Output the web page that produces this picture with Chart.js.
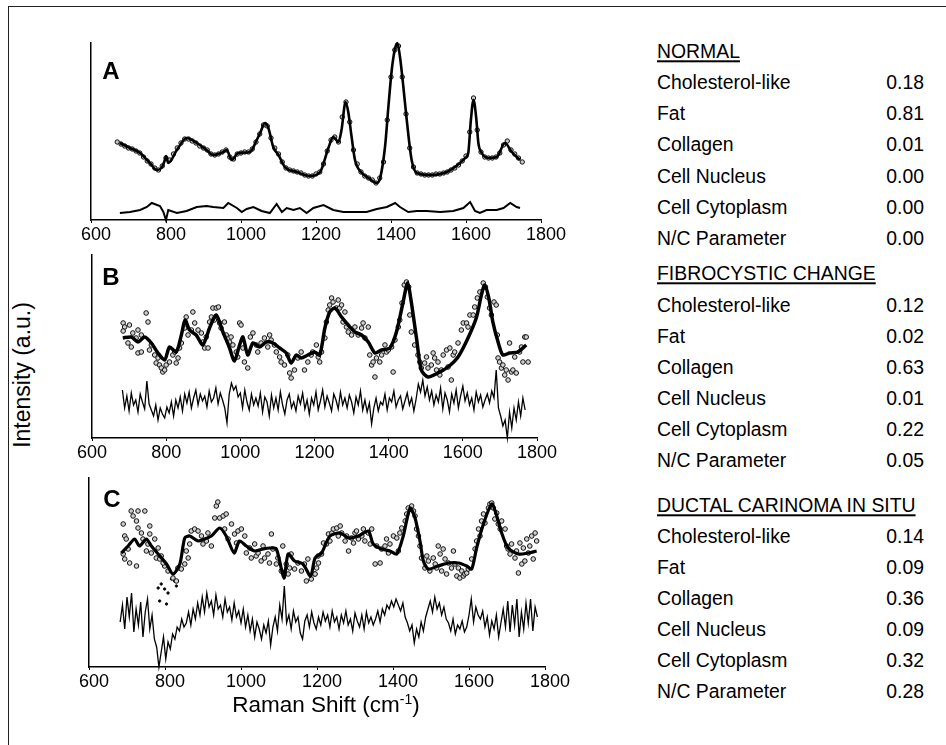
<!DOCTYPE html>
<html><head><meta charset="utf-8">
<script src="https://cdn.jsdelivr.net/npm/chart.js@4.4.0/dist/chart.umd.min.js"></script>
<style>
html,body{margin:0;padding:0;background:#fff;}
body{width:946px;height:745px;position:relative;overflow:hidden;font-family:'Liberation Sans',Arial,sans-serif;color:#000;}
.frameTop{position:absolute;left:8px;top:6px;width:940px;height:0;border-top:1px solid #222;}
.frameLeft{position:absolute;left:8px;top:6px;width:0;height:745px;border-left:1px solid #222;}
canvas{position:absolute;}
.t{position:absolute;white-space:nowrap;line-height:1;transform:translateY(-50%);font-size:19.4px;}
.v{text-align:right;}
.u{text-decoration:underline;text-decoration-thickness:1.5px;text-underline-offset:2px;}
.pl{position:absolute;font-weight:bold;font-size:24px;line-height:1;transform:translate(-50%,-50%);}
.ytitle{position:absolute;left:22px;top:375px;font-size:23px;white-space:nowrap;line-height:1;transform:translate(-50%,-50%) rotate(-90deg);}
.xtitle{position:absolute;left:326px;top:705px;font-size:22.5px;white-space:nowrap;line-height:1;transform:translate(-50%,-50%);}
.xtitle sup{font-size:14px;vertical-align:8px;line-height:0;}
</style></head>
<body>
<div class="frameTop"></div><div class="frameLeft"></div>
<canvas id="cA"></canvas><canvas id="cB"></canvas><canvas id="cC"></canvas>
<div class="pl" style="left:111px;top:71px">A</div>
<div class="pl" style="left:111px;top:277px">B</div>
<div class="pl" style="left:112px;top:499px">C</div>
<div class="ytitle">Intensity (a.u.)</div>
<div class="xtitle">Raman Shift (cm<sup>-1</sup>)</div>
<div id="tables"></div>
<script>
// ---------- x axis ticks ----------
const xTickValues = [600, 800, 1000, 1200, 1400, 1600, 1800];

// ---------- Panel A (normal) ----------
const aFitX = [677,704,731,757,775,788,797,800,806,829,855,882,908,926,953,962,975,993,1024,1042,1051,1064,1073,1086,1100,1117,1149,1184,1211,1233,1246,1260,1268,1279,1286,1295,1304,1320,1340,1362,1371,1384,1393,1402,1411,1417,1424,1433,1442,1455,1469,1504,1549,1584,1598,1606,1613,1620,1627,1633,1642,1660,1682,1704,1722,1744];
const aFitY = [77,72,67,57,50,52,60,64,57,70,82,77,70,65,68,70,60,67,68,80,87,97,92,73,65,53,48,44,48,72,83,78,90,118,108,83,60,48,42,37,42,73,113,150,172,177,163,133,100,60,47,45,48,57,62,67,100,120,103,77,67,62,63,77,68,60];
const aObsStart = 670, aObsStep = 10;
const aObsY = [78,76,74,72,71,69,67,63,59,56,
  52,50,54,62,60,66,72,77,81,81,
  79,77,74,72,70,66,65,66,68,70,
  63,61,66,67,68,68,71,78,86,95,
  94,82,72,66,58,52,50,49,48,47,
  45,44,44,46,48,56,69,80,83,78,
  103,118,98,70,56,48,44,42,40,37,
  42,58,100,143,170,174,143,106,72,53,
  47,46,45,45,45,46,46,47,48,50,
  52,55,59,64,88,122,90,68,63,62,
  62,63,67,75,79,70,66,62,58];
const aResX = [677,704,731,749,762,784,793,800,806,829,855,882,908,926,953,966,989,1002,1015,1033,1055,1077,1095,1109,1122,1140,1157,1175,1193,1220,1246,1273,1309,1335,1362,1389,1411,1424,1446,1469,1495,1531,1566,1593,1611,1624,1637,1655,1682,1700,1718,1735,1744];
const aResY = [7,8,10,13,17,14,8,0,10,7,9,13,14,13,12,17,12,8,11,13,9,7,16,8,12,10,12,7,12,15,10,8,8,8,11,13,17,13,8,9,9,8,9,12,18,9,7,10,10,12,17,13,12];

// ---------- Panel B (fibrocystic change) ----------
const bFitX = [683,706,724,742,760,778,796,809,827,841,851,863,881,899,917,935,953,971,984,998,1007,1020,1034,1052,1070,1088,1106,1124,1137,1151,1164,1182,1200,1214,1228,1241,1255,1273,1291,1309,1327,1345,1363,1381,1403,1421,1439,1451,1461,1475,1488,1506,1533,1560,1587,1614,1637,1650,1659,1670,1681,1695,1708,1726,1749,1771];
const bFitY = [100,101,96,101,95,85,78,91,86,103,118,108,103,93,110,123,106,90,77,93,101,83,95,91,96,95,90,85,75,83,80,83,86,83,110,126,130,121,113,106,103,96,85,88,90,106,136,155,136,100,68,61,65,71,81,100,121,143,153,140,116,96,83,85,86,93];
const bObsX = [684,688,701,684,710,724,733,746,751,697,706,724,733,719,755,760,769,778,773,782,787,791,796,800,809,818,827,832,823,836,841,850,854,859,868,872,877,886,895,899,904,913,908,917,922,926,935,941,930,944,948,957,962,971,975,980,989,993,998,1002,1007,1011,1020,1027,1034,1043,1047,1056,1065,1074,1079,1083,1092,1097,1106,1110,1119,1128,1133,1137,1146,1155,1164,1173,1182,1191,1195,
  1205,1210,1214,1219,1228,1232,1237,1241,1246,1250,1259,1264,1268,1273,1282,1277,1286,1291,1300,1309,1318,1327,1331,1336,1345,1349,1354,1358,1363,1367,1376,1381,1390,1394,1399,1408,1412,1417,1426,1430,1436,1442,1448,1454,1457,1461,1470,1479,1484,1488,1497,1502,1506,1515,1520,1524,1529,1533,1538,1542,1547,1556,1560,1565,1569,1574,1578,1587,1596,1601,1610,1614,1619,1628,1632,1639,1646,1655,1661,1666,1672,1677,1684,1690,1693,1695,1699,1704,1708,1713,1717,1722,1726,1731,1735,1740,1744,1753,1758,1762,1767,1771,1776];
const bObsY = [115,111,113,107,105,108,103,125,116,95,91,85,86,100,88,93,83,80,75,73,70,66,68,73,76,83,75,80,86,90,95,110,121,103,108,126,115,108,105,96,90,90,101,116,121,130,130,131,118,115,110,116,103,96,101,93,86,81,115,113,90,76,70,101,105,93,86,95,100,91,103,98,93,86,81,76,73,83,65,60,68,80,86,68,76,83,86,
  93,81,76,86,100,116,128,133,140,136,130,138,130,133,126,116,111,106,103,111,103,110,115,100,111,83,73,76,61,80,76,83,93,86,88,91,66,98,111,118,135,153,156,151,123,106,93,83,76,70,75,81,70,73,85,80,68,76,63,68,83,88,71,90,58,83,86,95,108,115,115,111,123,123,131,140,146,155,151,141,130,123,136,133,103,80,76,70,73,63,68,58,95,66,68,81,65,86,91,76,101,101,76];
const bResStart = 682, bResStep = 6;
const bResY = [48,30,42,27,45,33,38,26,44,36,29,57,34,
  28,22,33,18,30,24,20,31,
  25,36,22,38,30,41,27,44,
  35,46,30,40,48,33,44,37,
  42,31,47,36,40,50,34,45,
  38,30,15,44,55,48,52,41,
  45,30,48,36,28,44,33,40,
  32,45,26,41,36,22,43,30,
  40,28,46,33,24,38,44,30,
  36,27,42,34,45,29,38,24,
  40,33,46,28,37,48,31,42,
  35,27,44,38,29,46,33,40,
  30,43,36,25,41,33,47,28,
  38,26,35,14,30,40,27,36,
  33,44,28,40,36,47,31,38,
  42,29,37,45,33,40,27,39,
  54,46,58,42,51,38,47,33,
  43,36,50,29,45,38,26,44,
  35,48,30,42,52,37,45,33,
  40,28,46,36,43,31,38,44,
  35,47,40,68,30,22,12,18,
  0,26,10,30,18,36,22,40,
  28];

// ---------- Panel C (ductal carcinoma in situ) ----------
const cFitX = [685,703,720,733,751,764,782,804,821,839,852,865,887,904,922,944,961,982,996,1014,1036,1058,1075,1093,1113,1124,1141,1163,1183,1195,1212,1234,1261,1283,1309,1335,1348,1370,1392,1410,1427,1445,1458,1471,1480,1493,1519,1546,1572,1594,1607,1620,1638,1660,1673,1686,1703,1730,1756,1778];
const cFitY = [114,121,128,121,128,121,113,103,93,103,129,131,126,128,131,139,131,114,126,121,116,118,119,118,89,113,106,103,91,109,114,131,134,129,131,136,123,118,116,113,131,159,149,126,106,98,101,104,104,101,98,119,143,163,151,134,119,113,114,116];
const cObsX = [690,694,698,703,690,694,707,711,716,729,725,729,738,742,747,751,760,760,755,764,773,777,782,786,790,799,725,795,808,821,830,834,843,852,861,856,865,869,878,887,896,900,909,913,922,931,935,939,944,953,957,961,966,975,983,988,992,1001,1010,1014,1023,1027,1036,1040,1045,1053,1058,1062,1071,1075,1080,1084,1093,1097,1106,1110,1119,1124,1128,1132,1141,1150,1159,1167,1172,1176,1185,1194,1203,
  1195,1199,1204,1212,1217,1225,1230,1234,1239,1243,1252,1256,1261,1265,1274,1278,1283,1291,1296,1300,1304,1309,1318,1322,1326,1335,1340,1344,1353,1357,1366,1370,1379,1383,1388,1392,1401,1410,1414,1418,1423,1432,1436,1440,1449,1454,1458,1462,1467,1471,1475,1484,1489,1493,1497,1506,1511,1515,1519,1524,1528,1532,1537,1541,1546,1554,1559,1563,1568,1572,1576,1581,1585,1589,1594,1598,1607,1616,1620,1625,1629,1633,1638,1642,1651,1655,1660,1664,1668,1673,1677,1682,1686,1695,1699,1703,1708,1712,1721,1725,1730,1734,1739,1743,1747,1752,1756,1760,1765,1769,1774,1778];
const cObsY = [143,131,128,118,113,108,104,156,151,156,146,139,134,128,156,116,141,133,123,114,128,109,119,108,111,101,101,104,96,89,86,99,98,103,109,116,123,136,138,136,131,123,126,134,121,149,161,165,149,151,138,153,128,143,133,124,136,138,131,114,119,109,123,111,114,106,121,109,113,104,133,118,103,109,96,121,103,93,99,113,98,104,96,103,86,108,88,93,111,
  93,99,104,113,124,123,133,126,134,138,139,131,141,134,126,131,116,129,124,134,136,128,131,138,126,134,123,138,103,121,104,118,121,128,114,123,131,129,116,134,139,146,153,159,161,156,151,138,131,121,109,99,111,106,96,109,103,99,121,113,96,118,108,93,104,99,116,103,91,99,89,96,91,93,94,98,108,118,126,138,131,146,153,144,159,163,164,159,148,154,143,138,146,138,121,118,113,123,109,116,94,124,103,119,106,128,114,121,131,108,134,126];
const cDotX = [782,790,799,808,786,804,817,825,830];
const cDotY = [79,83,78,74,66,63,88,86,81];
const cResStart = 682, cResStep = 6;
const cResY = [45,62,38,70,50,74,35,58,
  42,65,30,55,68,38,52,28,
  20,0,15,30,8,25,18,33,
  28,40,36,48,40,44,55,42,
  58,48,64,52,70,55,74,60,
  66,52,72,58,62,50,68,55,
  60,47,64,50,56,44,58,40,
  52,36,48,30,45,38,28,42,
  34,46,22,40,50,36,62,48,
  81,44,52,38,56,45,50,34,
  28,46,52,40,55,44,38,50,
  42,55,46,52,40,56,45,50,
  38,52,44,56,42,48,36,54,
  46,40,52,38,55,44,50,42,
  48,56,45,58,52,62,58,66,
  60,68,62,56,64,50,44,36,
  42,24,38,30,45,36,50,58,
  66,55,70,58,64,52,60,48,
  44,36,48,33,42,38,46,35,
  40,52,68,45,60,52,48,56,
  40,50,32,46,38,52,30,44,
  58,40,66,35,62,42,68,30,
  55,38,64,44,68,36,60,50];

// ---------- Tables ----------
const components = ['Cholesterol-like','Fat','Collagen','Cell Nucleus','Cell Cytoplasm','N/C Parameter'];
const groups = [
  {title:'NORMAL', values:['0.18','0.81','0.01','0.00','0.00','0.00'], titleY:52, rowsY:[83,114,145,177,208,239]},
  {title:'FIBROCYSTIC CHANGE', values:['0.12','0.02','0.63','0.01','0.22','0.05'], titleY:274, rowsY:[306,337,368,399,430,461]},
  {title:'DUCTAL CARINOMA IN SITU', values:['0.14','0.09','0.36','0.09','0.32','0.28'], titleY:506, rowsY:[537,568,599,630,661,692]}
];

// ---------- helpers ----------
function pts(xs, ys){ return ys.map((y,i)=>({x:xs[i], y:y})); }
function sampleAxis(start, step, n){ const a=[]; for(let i=0;i<n;i++) a.push(start+step*i); return a; }

const FONT = "'Liberation Sans', Arial, sans-serif";
const padL = 30, padR = 30, padT = 4, axisH = 30;

function fitLine(xs, ys, w, smooth){
  return {data:pts(xs,ys), showLine:true, borderColor:'#000', borderWidth:w, pointRadius:0,
    cubicInterpolationMode: smooth ? 'monotone' : 'default', tension: smooth ? 0 : 0.25, order:0, clip:false};
}
function obs(xs, ys, r, fill){
  return {data:pts(xs,ys), showLine:false, pointRadius:r, pointHoverRadius:r, pointBorderWidth:1,
    pointBorderColor:'#111', pointBackgroundColor:fill, order:1, clip:false};
}
function resid(xs, ys, w){
  return {data:pts(xs,ys), showLine:true, borderColor:'#000', borderWidth:w, pointRadius:0, tension:0, order:2, clip:false};
}

const panels = [
  {id:'cA', left:91, right:541, top:43, bottom:220, yMax:177, labelShift:5, datasets:[
    fitLine(aFitX, aFitY, 2.6, true),
    obs(sampleAxis(aObsStart, aObsStep, aObsY.length), aObsY, 2.2, '#c8c8c8'),
    resid(aResX, aResY, 2)
  ]},
  {id:'cB', left:92, right:537, top:255, bottom:438, yMax:183, labelShift:0, datasets:[
    fitLine(bFitX, bFitY, 3.5, false),
    obs(bObsX, bObsY, 2.3, '#d0d0d0'),
    resid(sampleAxis(bResStart, bResStep, bResY.length), bResY, 1.3)
  ]},
  {id:'cC', left:89, right:545, top:478, bottom:667, yMax:189, labelShift:5, datasets:[
    fitLine(cFitX, cFitY, 3.2, false),
    obs(cObsX, cObsY, 2.3, '#d0d0d0'),
    obs(cDotX, cDotY, 1.2, '#000'),
    resid(sampleAxis(cResStart, cResStep, cResY.length), cResY, 1.3)
  ]}
];

panels.forEach(p => {
  const cv = document.getElementById(p.id);
  const w = p.right - p.left + padL + padR;
  const h = p.bottom - p.top + padT + axisH;
  cv.width = w; cv.height = h;
  cv.style.left = (p.left - padL) + 'px';
  cv.style.top = (p.top - padT) + 'px';
  cv.style.width = w + 'px'; cv.style.height = h + 'px';
  new Chart(cv, {
    type:'scatter',
    data:{datasets:p.datasets},
    options:{
      responsive:false, animation:false, devicePixelRatio:1,
      layout:{padding:{left:padL, right:padR, top:padT, bottom:0}},
      plugins:{legend:{display:false}, tooltip:{enabled:false}},
      scales:{
        x:{type:'linear', min:600, max:1800,
          afterBuildTicks: s => { s.ticks = xTickValues.map(v => ({value:v})); },
          afterFit: s => { s.height = axisH; },
          ticks:{font:{family:FONT, size:18}, color:'#000', padding:1, maxRotation:0, autoSkip:false,
            labelOffset:p.labelShift, callback: v => String(v)},
          grid:{display:true, drawOnChartArea:false, drawTicks:true, tickLength:3, color:'#000', lineWidth:1},
          border:{display:true, color:'#000', width:1.5}},
        y:{type:'linear', min:0, max:p.yMax,
          afterFit: s => { s.width = 0; },
          ticks:{display:false}, grid:{display:false},
          border:{display:true, color:'#000', width:1.5}}
      }
    }
  });
});

// tables as text
const host = document.getElementById('tables');
groups.forEach(g => {
  const t = document.createElement('div');
  t.className = 't u'; t.style.left = '657px'; t.style.top = g.titleY + 'px';
  t.textContent = g.title; host.appendChild(t);
  components.forEach((c, i) => {
    const a = document.createElement('div');
    a.className = 't'; a.style.left = '657px'; a.style.top = g.rowsY[i] + 'px';
    a.textContent = c; host.appendChild(a);
    const b = document.createElement('div');
    b.className = 't v'; b.style.right = '22px'; b.style.top = g.rowsY[i] + 'px';
    b.textContent = g.values[i]; host.appendChild(b);
  });
});
</script>
</body></html>
